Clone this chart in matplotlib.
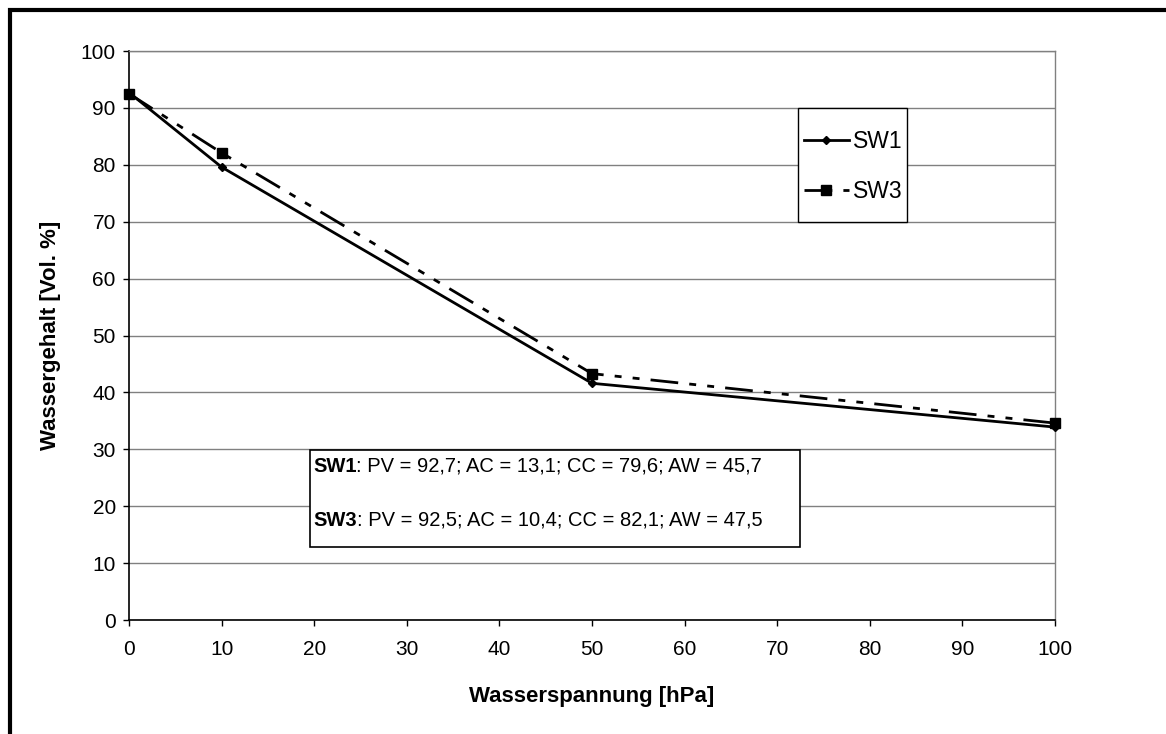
import matplotlib
matplotlib.use("Agg")
import matplotlib.pyplot as plt
from matplotlib.patches import Rectangle

plt.rcParams['font.family'] = ['Liberation Sans', 'DejaVu Sans']

x_vals = [0, 10, 50, 100]
sw1 = [92.7, 79.6, 41.6, 33.9]
sw3 = [92.5, 82.1, 43.3, 34.6]
series_names = ["SW1", "SW3"]
x_ticks = [0, 10, 20, 30, 40, 50, 60, 70, 80, 90, 100]
y_ticks = [0, 10, 20, 30, 40, 50, 60, 70, 80, 90, 100]
info_lines = [("SW1", ": PV = 92,7; AC = 13,1; CC = 79,6; AW = 45,7"),
              ("SW3", ": PV = 92,5; AC = 10,4; CC = 82,1; AW = 47,5")]

W, H = 1166, 734
AX0, AX1, AY0, AY1 = 129, 1055, 620, 51  # pixel extents of plot area
fig = plt.figure(figsize=(W/100, H/100), dpi=100)
ax = fig.add_axes([AX0/W, 1-AY0/H, (AX1-AX0)/W, (AY0-AY1)/H])

def ax_frac(px, py):
    return (px-AX0)/(AX1-AX0), (AY0-py)/(AY0-AY1)

# outer frame (left and top visible)
fig.patches.append(Rectangle((9.5/W, -0.1), 1.2, (H-9.5)/H+0.1, transform=fig.transFigure,
                             fill=False, edgecolor='black', linewidth=3))

ax.set_xlim(0, 100)
ax.set_ylim(0, 100)
ax.set_xticks(x_ticks)
ax.set_yticks(y_ticks)
ax.grid(axis='y', color='#808080', linewidth=1.0)
ax.set_axisbelow(True)
for s in ['top', 'right']:
    ax.spines[s].set_color('#808080')
    ax.spines[s].set_linewidth(1.0)
for s in ['left', 'bottom']:
    ax.spines[s].set_color('black')
    ax.spines[s].set_linewidth(1.2)
ax.tick_params(axis='both', labelsize=15, length=4.5, width=1, direction='out')
ax.tick_params(axis='y', pad=5)
ax.tick_params(axis='x', pad=10)

l1, = ax.plot(x_vals, sw1, color='black', linewidth=2, marker='D', markersize=4.5,
              label=series_names[0], clip_on=False, zorder=4)
l3, = ax.plot(x_vals, sw3, color='black', linewidth=2, marker='s', markersize=6.5,
              dashes=(10, 4, 2.5, 4, 2.5, 4), label=series_names[1], clip_on=False, zorder=3)

ax.set_xlabel("Wasserspannung [hPa]", fontsize=16, fontweight='bold', labelpad=19)
ax.set_ylabel("Wassergehalt [Vol. %]", fontsize=16, fontweight='bold', labelpad=14)

# legend frame
lx0, ly0, lx1, ly1 = 798, 108, 907, 222
fx, fy = ax_frac(lx0, ly1)
ax.add_patch(Rectangle((fx, fy), (lx1-lx0)/(AX1-AX0), (ly1-ly0)/(AY0-AY1),
                       transform=ax.transAxes, facecolor='white', edgecolor='black',
                       linewidth=1.0, zorder=5))
cx, cy = ax_frac((803+903)/2, (142+191)/2)
leg = ax.legend(handles=[l1, l3], loc='center', bbox_to_anchor=(cx, cy),
                fontsize=16.5, frameon=False, handlelength=2.0, labelspacing=1.15,
                borderpad=0, handletextpad=0.15, borderaxespad=0)
leg.set_zorder(6)

# info text box
bx0, by0, bx1, by1 = 310, 450, 800, 547
fx, fy = ax_frac(bx0, by1)
ax.add_patch(Rectangle((fx, fy), (bx1-bx0)/(AX1-AX0), (by1-by0)/(AY0-AY1),
                       transform=ax.transAxes, facecolor='white',
                       edgecolor='black', linewidth=1.2, zorder=5))
for i, (bold, rest) in enumerate(info_lines):
    ypix = 466 + i*54
    tx, ty = ax_frac(bx0+3, ypix)
    t = ax.text(tx, ty, bold, transform=ax.transAxes,
                fontsize=14.5, fontweight='bold', va='center', ha='left', zorder=6)
    fig.canvas.draw()
    bb = t.get_window_extent()
    x_after = ax.transAxes.inverted().transform((bb.x1, 0))[0]
    ax.text(x_after, ty, rest, transform=ax.transAxes,
            fontsize=14.5, va='center', ha='left', zorder=6)

fig.savefig("out.png", dpi=100)
